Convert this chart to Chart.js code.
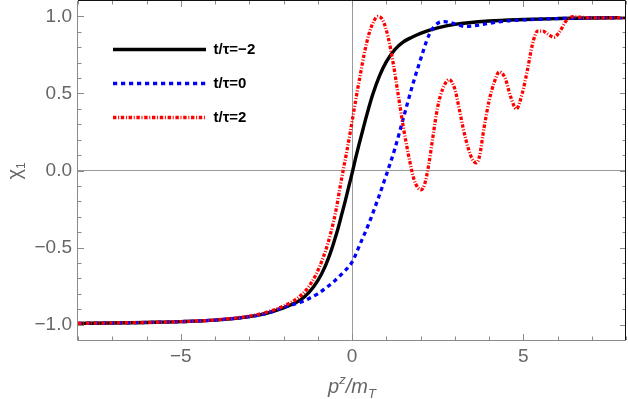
<!DOCTYPE html>
<html><head><meta charset="utf-8">
<script src="https://cdn.jsdelivr.net/npm/chart.js@4/dist/chart.umd.min.js"></script>
<style>html,body{margin:0;padding:0;background:#fff;}#wrap{width:628px;height:399px;}</style>
</head><body><div id="wrap"><canvas id="c" width="628" height="399"></canvas></div>
<script>
// ---- data ----
const seriesLabels = ['t/\u03c4=\u22122', 't/\u03c4=0', 't/\u03c4=2'];

const xBlack = [-8,-7,-6,-5,-4,-3,-2.5,-2,-1.75,-1.5,-1.25,-1,-0.8,-0.6,-0.5,-0.4,-0.3,-0.2,-0.1,0,0.1,0.2,0.3,0.4,0.5,0.6,0.8,1.0,1.25,1.5,1.75,2,2.5,3,4,5,6,7,8];
const yBlack = [-0.992,-0.99,-0.986,-0.981,-0.971,-0.948,-0.927,-0.892,-0.868,-0.84,-0.79,-0.715,-0.63,-0.515,-0.445,-0.37,-0.285,-0.2,-0.11,-0.02,0.075,0.165,0.25,0.335,0.415,0.49,0.612,0.705,0.785,0.835,0.865,0.89,0.925,0.948,0.97,0.98,0.986,0.99,0.992];

const xBlue = [-8,-7,-6,-5,-4,-3,-2.5,-2,-1.5,-1.25,-1,-0.75,-0.5,-0.25,0,0.25,0.5,0.75,1.0,1.25,1.5,1.75,2.0,2.25,2.5,2.7,2.9,3.1,3.3,3.6,4,4.5,5,6,7,8];
const yBlue = [-0.992,-0.99,-0.986,-0.981,-0.971,-0.948,-0.928,-0.888,-0.855,-0.83,-0.8,-0.76,-0.715,-0.66,-0.595,-0.47,-0.34,-0.19,-0.03,0.14,0.34,0.54,0.72,0.88,0.955,0.966,0.958,0.945,0.935,0.94,0.955,0.97,0.977,0.986,0.99,0.992];

const xRed = [-8,-6,-5,-4,-3,-2.5,-2,-1.6,-1.3,-1.05,-0.85,-0.7,-0.58,-0.46,-0.35,-0.25,-0.15,-0.05,0.05,0.15,0.25,0.35,0.5,0.64,0.76,0.9,1.05,1.2,1.35,1.5,1.65,1.8,1.92,2.02,2.12,2.25,2.35,2.5,2.65,2.84,3.0,3.13,3.25,3.4,3.5,3.62,3.72,3.85,4.0,4.15,4.3,4.47,4.63,4.8,4.97,5.12,5.27,5.42,5.57,5.72,5.9,6.06,6.25,6.45,6.65,7,8];
const yRed = [-0.992,-0.986,-0.981,-0.97,-0.945,-0.92,-0.88,-0.83,-0.765,-0.675,-0.57,-0.47,-0.37,-0.25,-0.11,0.01,0.125,0.25,0.38,0.51,0.63,0.75,0.89,0.97,1.0,0.975,0.87,0.7,0.49,0.28,0.1,-0.05,-0.11,-0.125,-0.09,0.05,0.2,0.41,0.53,0.59,0.53,0.4,0.27,0.14,0.08,0.05,0.09,0.27,0.45,0.57,0.64,0.6,0.48,0.4,0.5,0.65,0.82,0.905,0.905,0.885,0.865,0.9,0.97,0.998,0.995,0.99,0.992];

const xTickValues = [-5, 0, 5];
const yTickValues = [-1, -0.5, 0, 0.5, 1];
const xRange = [-8, 8];
const yRange = [-1.1, 1.1];

// ---- helpers ----
const pts = (xs, ys) => xs.map((x, i) => ({x: x, y: ys[i]}));
const fmtNum = (v, d) => (v < 0 ? '\u2212' : '') + Math.abs(v).toFixed(d);
const GRAY = '#666';
const FONT = "'Liberation Sans', Arial, sans-serif";

const framePlugin = {
  id: 'frame',
  afterDatasetsDraw(chart) {
    const {ctx, chartArea: ca, scales: {x, y}} = chart;
    ctx.save();
    ctx.lineWidth = 1;
    ctx.strokeStyle = '#8a8a8a';
    for (let v = Math.ceil(xRange[0]); v <= xRange[1]; v++) {
      const px = Math.round(x.getPixelForValue(v)) + 0.5;
      const len = (v % 5 === 0) ? 6 : 3.5;
      ctx.beginPath();
      ctx.moveTo(px, ca.bottom); ctx.lineTo(px, ca.bottom - len);
      ctx.moveTo(px, ca.top); ctx.lineTo(px, ca.top + len);
      ctx.stroke();
    }
    for (let k = -10; k <= 10; k++) {
      const v = k / 10;
      const py = Math.round(y.getPixelForValue(v)) + 0.5;
      const len = (k % 5 === 0) ? 6 : 3.5;
      ctx.beginPath();
      ctx.moveTo(ca.left, py); ctx.lineTo(ca.left + len, py);
      ctx.moveTo(ca.right, py); ctx.lineTo(ca.right - len, py);
      ctx.stroke();
    }
    ctx.strokeStyle = '#8a8a8a';
    ctx.beginPath();
    ctx.moveTo(ca.left - 0.5, ca.top); ctx.lineTo(ca.left - 0.5, ca.bottom + 0.5);
    ctx.lineTo(ca.right, ca.bottom + 0.5);
    ctx.stroke();
    ctx.strokeStyle = '#111';
    ctx.beginPath();
    ctx.moveTo(ca.left, ca.top - 0.5); ctx.lineTo(ca.right - 0.5, ca.top - 0.5);
    ctx.lineTo(ca.right - 0.5, ca.bottom);
    ctx.stroke();
    ctx.restore();
  },
  afterDraw(chart) {
    const {ctx, chartArea: ca} = chart;
    ctx.save();
    ctx.fillStyle = GRAY;
    const parts = [
      {t: 'p', f: 'italic 20px ' + FONT, dy: 0},
      {t: 'z', f: 'italic 13px ' + FONT, dy: -9},
      {t: '/m', f: 'italic 20px ' + FONT, dy: 0},
      {t: 'T', f: 'italic 13px ' + FONT, dy: 5}
    ];
    let total = 0;
    parts.forEach(p => { ctx.font = p.f; p.w = ctx.measureText(p.t).width; total += p.w; });
    let cx = (ca.left + ca.right) / 2 - total / 2;
    const base = 393;
    ctx.textBaseline = 'alphabetic';
    ctx.textAlign = 'left';
    parts.forEach(p => { ctx.font = p.f; ctx.fillText(p.t, cx, base + p.dy); cx += p.w; });
    ctx.translate(21, 171);
    ctx.rotate(-Math.PI / 2);
    const yp = [
      {t: '\u03c7', f: '20px ' + FONT, dy: 0},
      {t: '1', f: '12px ' + FONT, dy: 4}
    ];
    total = 0;
    yp.forEach(p => { ctx.font = p.f; p.w = ctx.measureText(p.t).width; total += p.w; });
    cx = -total / 2;
    yp.forEach(p => { ctx.font = p.f; ctx.fillText(p.t, cx, p.dy); cx += p.w; });
    ctx.restore();
  }
};

const legendPlace = {
  id: 'legendPlace',
  afterLayout(chart) {
    const lg = chart.legend;
    if (!lg) return;
    const w = lg.width, h = lg.height;
    lg.left = 94; lg.top = 23;
    lg.right = lg.left + w; lg.bottom = lg.top + h;
  }
};

const zeroLine = (c) => (c.tick && c.tick.value === 0) ? '#9a9a9a' : 'rgba(0,0,0,0)';

new Chart(document.getElementById('c'), {
  type: 'line',
  data: {
    datasets: [
      {label: seriesLabels[0], data: pts(xBlack, yBlack), borderColor: '#000', borderWidth: 3.4, borderDash: [], order: 3},
      {label: seriesLabels[1], data: pts(xBlue, yBlue), borderColor: '#0000ff', borderWidth: 3.3, borderDash: [4.2, 3.8], order: 2},
      {label: seriesLabels[2], data: pts(xRed, yRed), borderColor: '#ff0000', borderWidth: 3.3, borderDash: [3.4, 1.7, 1, 1.7], order: 1}
    ]
  },
  options: {
    responsive: false,
    devicePixelRatio: 1,
    animation: false,
    layout: {padding: {top: 1, right: 2, bottom: 0, left: 0}},
    elements: {
      point: {radius: 0},
      line: {cubicInterpolationMode: 'monotone', fill: false, backgroundColor: 'rgba(0,0,0,0)'}
    },
    plugins: {
      tooltip: {enabled: false},
      legend: {
        position: 'chartArea',
        align: 'start',
        labels: {
          usePointStyle: true,
          pointStyle: 'line',
          pointStyleWidth: 93,
          padding: 19,
          color: '#000',
          font: {family: FONT, size: 15, weight: 'bold'},
          sort: (a, b) => a.datasetIndex - b.datasetIndex,
          generateLabels(chart) {
            const items = Chart.defaults.plugins.legend.labels.generateLabels(chart);
            items.forEach(it => {
              const ds = chart.data.datasets[it.datasetIndex];
              it.lineDash = ds.borderDash;
              it.lineWidth = ds.borderWidth;
              it.strokeStyle = ds.borderColor;
              it.fillStyle = ds.borderColor;
              it.pointStyle = 'line';
            });
            return items;
          }
        }
      }
    },
    scales: {
      x: {
        type: 'linear', min: xRange[0], max: xRange[1],
        border: {display: false},
        grid: {drawTicks: false, color: zeroLine, lineWidth: 1},
        afterBuildTicks: s => { s.ticks = xTickValues.map(v => ({value: v})); },
        ticks: {
          padding: 5, color: GRAY, font: {family: FONT, size: 19},
          maxRotation: 0, autoSkip: false,
          callback: v => fmtNum(v, 0)
        },
        afterFit: s => { s.height = 59; s.paddingLeft = 0; s.paddingRight = 0; }
      },
      y: {
        type: 'linear', min: yRange[0], max: yRange[1],
        border: {display: false},
        grid: {drawTicks: false, color: zeroLine, lineWidth: 1},
        afterBuildTicks: s => { s.ticks = yTickValues.map(v => ({value: v})); },
        ticks: {
          padding: 6, color: GRAY, font: {family: FONT, size: 19}, autoSkip: false,
          callback: v => fmtNum(v, 1)
        },
        afterFit: s => { s.width = 78; s.paddingTop = 0; s.paddingBottom = 0; }
      }
    }
  },
  plugins: [framePlugin, legendPlace]
});
</script>
</body></html>
